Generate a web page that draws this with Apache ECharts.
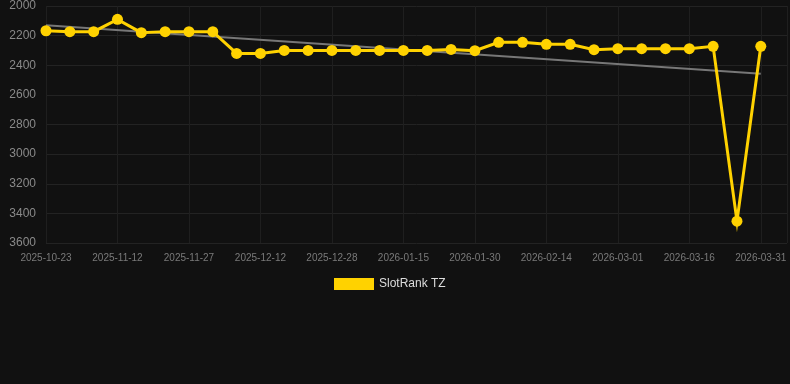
<!DOCTYPE html>
<html>
<head>
<meta charset="utf-8">
<script src="https://cdn.jsdelivr.net/npm/echarts@6/dist/echarts.min.js"></script>
<style>
html,body{margin:0;padding:0;background:#111111;}
#c{width:790px;height:384px;}
</style>
</head>
<body>
<div id="c"></div>
<script>
var tickLabels = ['2025-10-23','2025-11-12','2025-11-27','2025-12-12','2025-12-28','2026-01-15','2026-01-30','2026-02-14','2026-03-01','2026-03-16','2026-03-31'];
var rankValues = [2167,2173,2173,2090,2180,2173,2173,2173,2320,2320,2300,2300,2300,2300,2300,2300,2300,2293,2302,2245,2245,2259,2259,2295,2288,2288,2288,2288,2272,3453,2272];
var trendStart = 2130;
var trendEnd = 2457;
var seriesName = 'SlotRank TZ';

var rankData = rankValues.map(function(v,i){return [i,v];});
var trendData = [[0,trendStart],[rankValues.length-1,trendEnd]];

var chart = echarts.init(document.getElementById('c'), null, {renderer:'canvas'});
chart.setOption({
  backgroundColor:'#111111',
  animation:false,
  grid:{left:46,right:0,top:6,bottom:141},
  legend:{
    top:273, left:329,
    itemWidth:40, itemHeight:12, itemGap:10,
    icon:'rect',
    data:[seriesName],
    textStyle:{color:'#dddddd',fontSize:12,fontFamily:'Liberation Sans, Arial, sans-serif'}
  },
  xAxis:{
    type:'value',
    min:0,
    max:31.1,
    interval:3,
    axisLine:{show:false},
    axisTick:{show:false},
    splitLine:{show:true,lineStyle:{color:'#1f1f1f',width:1}},
    axisLabel:{
      color:'#7a7a7a',fontSize:10,margin:10,
      fontFamily:'Liberation Sans, Arial, sans-serif',
      showMaxLabel:true,
      formatter:function(v){
        if (Math.abs(v - Math.round(v))>1e-6 || Math.round(v)%3!==0) return '';
        var k = Math.round(v)/3;
        return tickLabels[k] || '';
      }
    }
  },
  yAxis:{
    type:'value',
    inverse:true,
    min:2000,max:3600,interval:200,
    axisLine:{show:false},
    axisTick:{show:false},
    splitLine:{show:true,lineStyle:{color:'#232323',width:1}},
    axisLabel:{color:'#8a8a8a',fontSize:12,margin:10,fontFamily:'Liberation Sans, Arial, sans-serif',
      formatter:function(v){return String(v);}}
  },
  series:[
    {
      name:'trend',
      type:'line',
      data:trendData,
      symbol:'none',
      silent:true,
      lineStyle:{color:'#777777',width:2},
      z:1
    },
    {
      name:seriesName,
      type:'line',
      data:rankData,
      symbol:'circle',
      symbolSize:11,
      itemStyle:{color:'#ffd200'},
      lineStyle:{color:'#ffd200',width:3,join:'miter',miterLimit:10},
      z:2
    }
  ]
});
</script>
</body>
</html>
